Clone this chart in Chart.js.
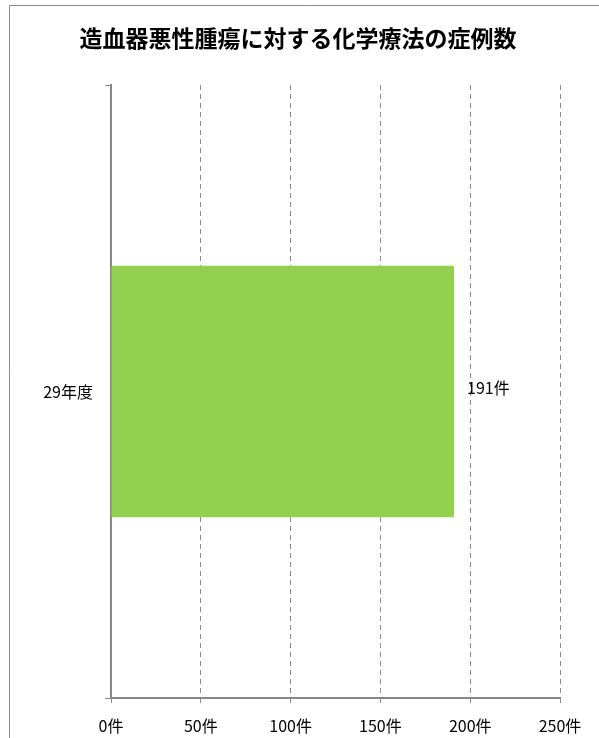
<!DOCTYPE html>
<html>
<head>
<meta charset="utf-8">
<script src="https://cdn.jsdelivr.net/npm/chart.js@4"></script>
<style>
  html, body { margin: 0; padding: 0; background: #fff; overflow: hidden; }
  #wrap { width: 599px; height: 738px; position: relative; }
</style>
</head>
<body>
<div id="wrap"><canvas id="chart" width="599" height="738"></canvas></div>
<script>
// データ
const title = '造血器悪性腫瘍に対する化学療法の症例数';
const categories = ['29年度'];
const counts = [191];
const tickValues = [0, 50, 100, 150, 200, 250];
const unit = '件';

const font = '"Noto Sans CJK JP", "Noto Sans", sans-serif';

// 外枠とタイトル
const framePlugin = {
  id: 'frame',
  beforeDraw(chart) {
    const ctx = chart.ctx;
    ctx.save();
    ctx.strokeStyle = '#8a8a8a';
    ctx.lineWidth = 1;
    ctx.beginPath();
    ctx.moveTo(9.5, chart.height);
    ctx.lineTo(9.5, 5.5);
    ctx.lineTo(chart.width, 5.5);
    ctx.stroke();

    ctx.font = 'bold 23px ' + font;
    ctx.fillStyle = '#000';
    ctx.textAlign = 'center';
    ctx.textBaseline = 'middle';
    ctx.fillText(title, 298, 38);
    ctx.restore();
  }
};

// 棒の右側に値を描く
const valueLabels = {
  id: 'valueLabels',
  afterDatasetsDraw(chart) {
    const ctx = chart.ctx;
    const meta = chart.getDatasetMeta(0);
    ctx.save();
    ctx.font = '16px ' + font;
    ctx.fillStyle = '#000';
    ctx.textAlign = 'left';
    ctx.textBaseline = 'middle';
    meta.data.forEach((bar, i) => {
      ctx.fillText(counts[i] + unit, bar.x + 13, bar.y - 4);
    });
    ctx.restore();
  }
};

new Chart(document.getElementById('chart'), {
  type: 'bar',
  data: {
    labels: categories,
    datasets: [{
      data: counts,
      backgroundColor: '#92D050',
      borderWidth: 0,
      categoryPercentage: 1,
      barPercentage: 0.41
    }]
  },
  options: {
    indexAxis: 'y',
    responsive: false,
    animation: false,
    layout: { padding: { left: 11, right: 39, top: 85, bottom: 0 } },
    plugins: {
      legend: { display: false },
      tooltip: { enabled: false },
      title: { display: false }
    },
    scales: {
      x: {
        min: 0,
        max: 250,
        afterBuildTicks(scale) {
          scale.ticks = tickValues.map(v => ({ value: v }));
        },
        afterFit(scale) { scale.height = 40; },
        ticks: {
          color: '#000',
          font: { family: font, size: 16 },
          padding: 13,
          maxRotation: 0,
          callback: v => v + unit
        },
        grid: {
          color: '#8c8c8c',
          tickColor: '#8a8a8a',
          tickLength: 5
        },
        border: { color: '#878787', width: 2, dash: [5, 4] }
      },
      y: {
        offset: true,
        afterFit(scale) { scale.width = 100; },
        ticks: {
          color: '#000',
          font: { family: font, size: 16 },
          padding: 12
        },
        grid: {
          offset: true,
          drawOnChartArea: false,
          tickColor: '#8a8a8a',
          tickLength: 6
        },
        border: { color: '#878787', width: 2 }
      }
    }
  },
  plugins: [framePlugin, valueLabels]
});
</script>
</body>
</html>
